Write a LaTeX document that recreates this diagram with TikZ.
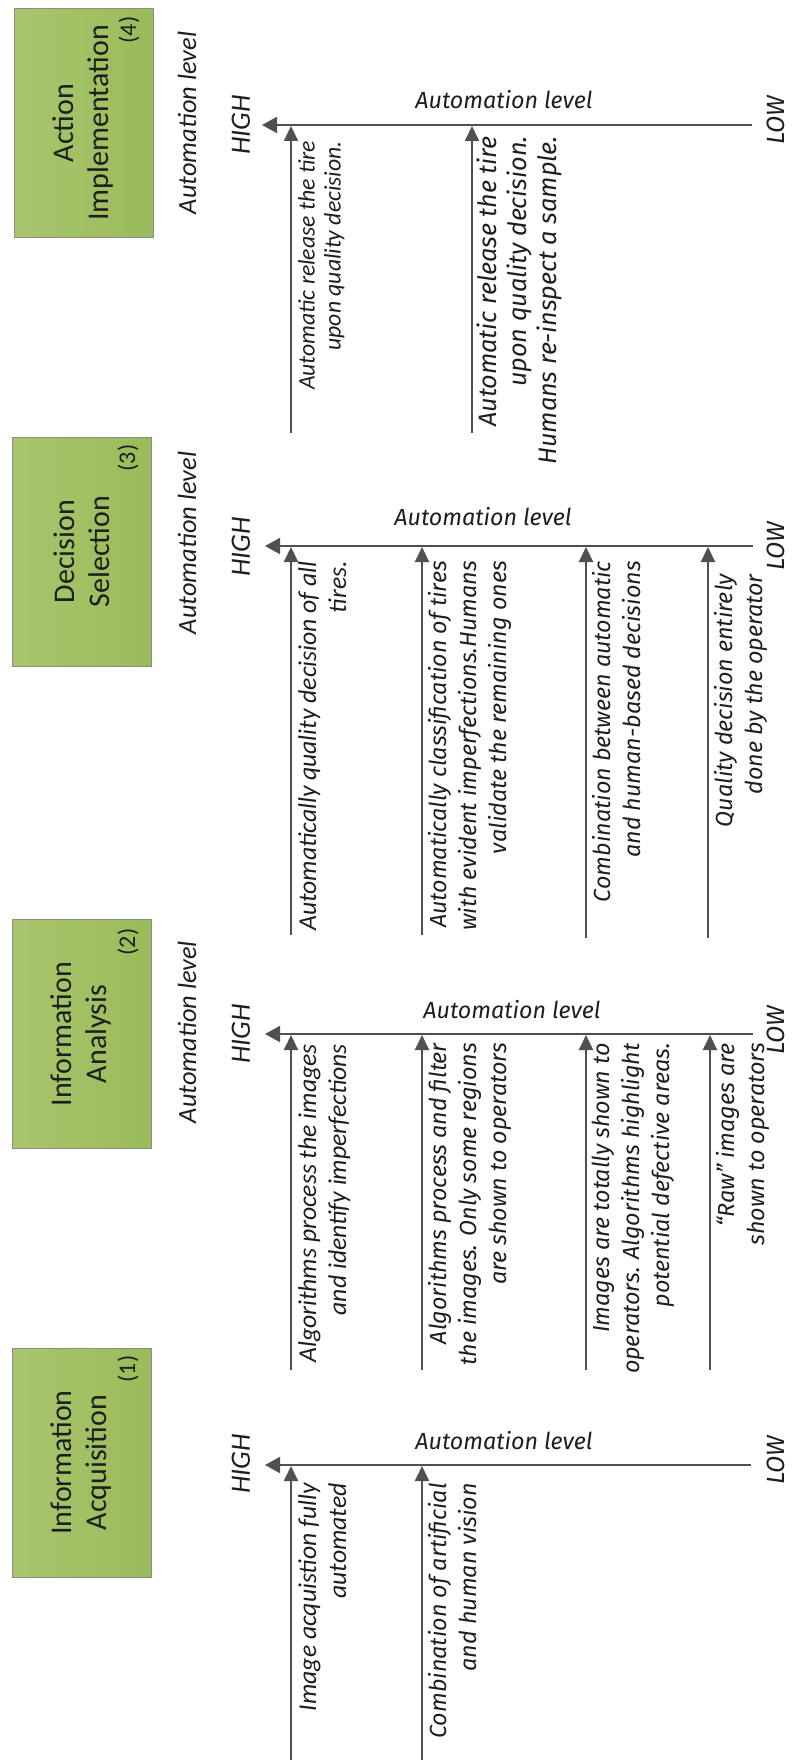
\documentclass[tikz,border=0pt]{standalone}
\usepackage{fontspec}
\setmainfont{Carlito}
\newfontfamily\fira{Fira Sans}
\usetikzlibrary{arrows.meta,calc}

\definecolor{linegray}{HTML}{505050}
\definecolor{boxlight}{HTML}{A8C66E}
\definecolor{boxdark}{HTML}{9ABB59}
\definecolor{boxedge}{HTML}{8C8C8C}
\definecolor{ink}{HTML}{1E1E1E}

\tikzset{
  stage/.style={rotate=90, draw=boxedge, line width=0.8pt, left color=boxlight, right color=boxdark,
    minimum width=229pt, minimum height=139pt, align=center, text=ink, inner sep=0pt,
    font=\fontsize{30}{35}\selectfont},
  stagenum/.style={rotate=90, text=ink, inner sep=0pt, font=\fontsize{24}{26}\selectfont},
  sidelabel/.style={rotate=90, text=ink, inner sep=0pt, font=\itshape\fontsize{26.4}{28}\selectfont},
  highmark/.style={rotate=90, text=ink, inner sep=0pt, font=\itshape\fontsize{28}{30}\selectfont},
  lowmark/.style={rotate=90, anchor=base, text depth=0pt, text=ink, inner sep=0pt,
    font=\fira\itshape\fontsize{25}{27}\selectfont},
  axislabel/.style={anchor=base, text=ink, inner sep=0pt, font=\fira\itshape\fontsize{23.3}{27}\selectfont},
  axis/.style={draw=linegray, line width=2pt, -{Triangle[length=15pt,width=16pt]}},
  option/.style={draw=linegray, line width=2pt, -{Triangle[length=15pt,width=14pt]}},
  opttext/.style={rotate=90, anchor=north east, align=right, inner sep=0pt, text=ink,
    font=\fira\itshape\fontsize{23.3}{30}\selectfont},
  opttextc/.style={rotate=90, anchor=north east, align=right, inner sep=0pt, text=ink,
    font=\itshape\fontsize{25.7}{30}\selectfont},
}

\begin{document}
\begin{tikzpicture}[x=1pt,y=-1pt]
\useasboundingbox (0,0) rectangle (792,1760);

% ---------- stage boxes ----------
\node[stage] (s4) at (83.5,123) {Action\\Implementation};
\node[stage] (s3) at (81.5,551.5) {Decision\\Selection};
\node[stage] (s2) at (81.5,1034) {Information\\Analysis};
\node[stage] (s1) at (81.5,1462.5) {Information\\Acquisition};

\node[stagenum] (n4) at (129,30) {(4)};
\node[stagenum] (n3) at (128,458) {(3)};
\node[stagenum] (n2) at (128,942) {(2)};
\node[stagenum] (n1) at (128,1369) {(1)};

\node[sidelabel] (l4) at (187,123) {Automation level};
\node[sidelabel] (l3) at (187,543) {Automation level};
\node[sidelabel] (l2) at (187,1032) {Automation level};

% ---------- axes (LOW on the right, HIGH on the left) ----------
\coordinate (lo4) at (752,125);  \coordinate (hi4) at (262,125);
\coordinate (lo3) at (753,546);  \coordinate (hi3) at (265,546);
\coordinate (lo2) at (753,1034); \coordinate (hi2) at (265,1034);
\coordinate (lo1) at (751,1465); \coordinate (hi1) at (265,1465);

\foreach \r in {1,2,3,4}{
  \draw[axis] (lo\r) -- (hi\r);
}

\node[highmark] (h4) at (241,125) {HIGH};
\node[highmark] (h3) at (241,547) {HIGH};
\node[highmark] (h2) at (241,1034) {HIGH};
\node[highmark] (h1) at (241,1464) {HIGH};

\node[lowmark] (w4) at (784,120) {LOW};
\node[lowmark] (w3) at (784,546) {LOW};
\node[lowmark] (w2) at (784,1030) {LOW};
\node[lowmark] (w1) at (784,1460) {LOW};

\node[axislabel] (t4) at (504,109) {Automation level};
\node[axislabel] (t3) at (483,525) {Automation level};
\node[axislabel] (t2) at (512,1018) {Automation level};
\node[axislabel] (t1) at (504,1449) {Automation level};

% ---------- options of each stage ----------
% stage 4
\coordinate (a41) at (291,433);
\coordinate (a42) at (472,433);
\draw[option] (a41) -- ($(a41 |- lo4)+(0,1)$);
\draw[option] (a42) -- ($(a42 |- lo4)+(0,1)$);
\node[opttextc, font=\itshape\fontsize{23.7}{26}\selectfont] (x41) at (298,141)
  {Automatic release the tire\\upon quality decision.};
\node[opttext, font=\fira\itshape\fontsize{25.2}{30}\selectfont] (x42) at (477,136)
  {Automatic release the tire\\upon quality decision.\\Humans re-inspect a sample.};

% stage 3
\coordinate (a31) at (291,935);
\coordinate (a32) at (422,935);
\coordinate (a33) at (586,938);
\coordinate (a34) at (708,938);
\foreach \k in {1,2,3,4}{
  \draw[option] (a3\k) -- ($(a3\k |- lo3)+(0,1)$);
}
\node[opttextc] (x31) at (298,561)
  {Automatically quality decision of all\\tires.};
\node[opttext] (x32) at (428,561)
  {Automatically classification of tires\\with evident imperfections.Humans\\validate the remaining ones};
\node[opttext] (x33) at (592,561)
  {Combination between automatic\\and human-based decisions};
\node[opttext] (x34) at (714,574)
  {Quality decision entirely\\done by the operator};

% stage 2
\coordinate (a21) at (291,1370);
\coordinate (a22) at (422,1370);
\coordinate (a23) at (586,1370);
\coordinate (a24) at (710,1370);
\foreach \k in {1,2,3,4}{
  \draw[option] (a2\k) -- ($(a2\k |- lo2)+(0,1)$);
}
\node[opttextc] (x21) at (298,1044)
  {Algorithms process the images\\and identify imperfections};
\node[opttext] (x22) at (428,1043)
  {Algorithms process and filter\\the images. Only some regions\\are shown to operators};
\node[opttext] (x23) at (592,1043)
  {Images are totally shown to\\operators. Algorithms highlight\\potential defective areas.};
\node[opttext] (x24) at (716,1043)
  {“Raw” images are\\shown to operators};

% stage 1
\coordinate (a11) at (291,1760);
\coordinate (a12) at (422,1760);
\draw[option] (a11) -- ($(a11 |- lo1)+(0,1)$);
\draw[option] (a12) -- ($(a12 |- lo1)+(0,1)$);
\node[opttextc] (x11) at (298,1483)
  {Image acquistion fully\\automated};
\node[opttext] (x12) at (428,1483)
  {Combination of artificial\\and human vision};
\end{tikzpicture}
\end{document}
